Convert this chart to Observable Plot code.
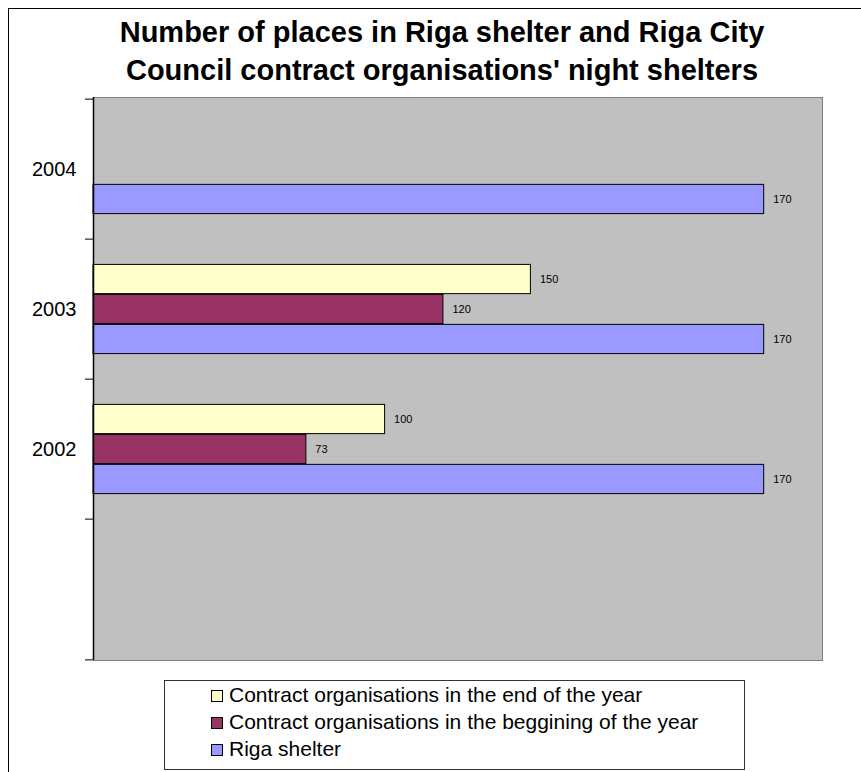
<!DOCTYPE html>
<html>
<head>
<meta charset="utf-8">
<script src="https://cdn.jsdelivr.net/npm/d3@7"></script>
<script src="https://cdn.jsdelivr.net/npm/@observablehq/plot@0.6"></script>
<style>
  html, body { margin: 0; padding: 0; background: #fff; }
  #page { position: relative; width: 861px; height: 772px; overflow: hidden; background: #fff;
          font-family: "Liberation Sans", Arial, sans-serif; color: #000; }
  #border { position: absolute; left: 8px; top: 8px; right: -20px; bottom: -20px;
            border-left: 1.5px solid #000; border-top: 1.5px solid #000; pointer-events: none; }
  #titleBox { position: relative; height: 86px; width: 861px; }
  #titleText { position: absolute; left: 0; top: 13px; width: 884px; text-align: center;
               font-weight: bold; font-size: 29px; line-height: 38px; white-space: nowrap; }
  #chart svg { display: block; }
  #legend { position: absolute; left: 164px; top: 680px; width: 581px; height: 90px; box-sizing: border-box;
            border: 1px solid #333; padding-left: 46px; font-size: 21px; }
  .row { height: 27px; line-height: 27px; white-space: nowrap; }
  .sw { display: inline-block; width: 10px; height: 10px; border: 1px solid #000; margin-right: 6px;
        vertical-align: 0px; }
</style>
</head>
<body>
<div id="page">
  <div id="titleBox"><div id="titleText"></div></div>
  <div id="chart"></div>
  <div id="legend"></div>
  <div id="border"></div>
</div>
<script>
// ---- data ----
const titleLines = ["Number of places in Riga shelter and Riga City", "Council contract organisations' night shelters"];
const years = ["2004", "2003", "2002", ""];           // category axis, top to bottom ("" = empty bottom category)
const endOfYear = [null, 150, 100, null];            // Contract organisations in the end of the year
const beginningOfYear = [null, 120, 73, null];       // Contract organisations in the beggining of the year
const rigaShelterLabel = [170, 170, 170, null];      // Riga shelter, value as labelled
const rigaShelterDrawn = [230, 230, 230, null];      // Riga shelter, bar length as drawn in the picture
const seriesNames = ["Contract organisations in the end of the year",
                     "Contract organisations in the beggining of the year",
                     "Riga shelter"];
const seriesColors = ["#FFFFCC", "#993366", "#9999FF"];
const xMax = 250;

// ---- build table ----
const seriesData = [
  {values: endOfYear, labels: endOfYear},
  {values: beginningOfYear, labels: beginningOfYear},
  {values: rigaShelterDrawn, labels: rigaShelterLabel}
];
const rows = [];
seriesData.forEach((s, k) => {
  years.forEach((y, i) => {
    if (s.values[i] != null) rows.push({year: y, k, series: seriesNames[k], bar: s.values[i], label: s.labels[i]});
  });
});

// ---- title ----
document.getElementById("titleText").innerHTML = titleLines.map(t => `<div>${t}</div>`).join("");

// ---- layout ----
const W = 861, H = 586, mTop = 11, mBottom = 12, mLeft = 93, mRight = 39;
const step = (H - mTop - mBottom) / years.length;
const barH = step * 0.213;
const pad = (step - 3 * barH) / 2;

const marks = [Plot.frame({fill: "#C0C0C0", stroke: "#808080"})];
seriesNames.forEach((name, k) => {
  const d = rows.filter(r => r.k === k);
  marks.push(Plot.barX(d, {
    x: "bar", y: "year", fill: seriesColors[k], stroke: "#000", strokeWidth: 1,
    insetTop: pad + k * barH, insetBottom: step - pad - (k + 1) * barH
  }));
});
seriesNames.forEach((name, k) => {
  const d = rows.filter(r => r.k === k);
  marks.push(Plot.text(d, {
    x: "bar", y: "year", text: d => String(d.label), dx: 9,
    dy: pad + (k + 0.5) * barH - step / 2, textAnchor: "start", fontSize: 11, fill: "#000"
  }));
});
marks.push(Plot.ruleX([0], {stroke: "#000", strokeWidth: 1.5}));
// category boundary ticks
marks.push(Plot.axisY(years, {tickSize: 8, text: null, dy: -step / 2, stroke: "#000"}));
marks.push(Plot.axisY([years[years.length - 1]], {tickSize: 8, text: null, dy: step / 2, stroke: "#000"}));
// category labels
marks.push(Plot.axisY(years.filter(y => y !== ""), {tickSize: 0, tickPadding: 17, fontSize: 20, fill: "#000"}));

const chart = Plot.plot({
  width: W, height: H,
  marginTop: mTop, marginBottom: mBottom, marginLeft: mLeft, marginRight: mRight,
  style: {fontFamily: "'Liberation Sans', Arial, sans-serif", background: "transparent", color: "#000"},
  x: {domain: [0, xMax], axis: null},
  y: {domain: years, type: "band", padding: 0, label: null, axis: null},
  marks
});
document.getElementById("chart").appendChild(chart);

// ---- legend ----
document.getElementById("legend").innerHTML = seriesNames.map((n, k) =>
  `<div class="row"><span class="sw" style="background:${seriesColors[k]}"></span>${n}</div>`).join("");
</script>
</body>
</html>
